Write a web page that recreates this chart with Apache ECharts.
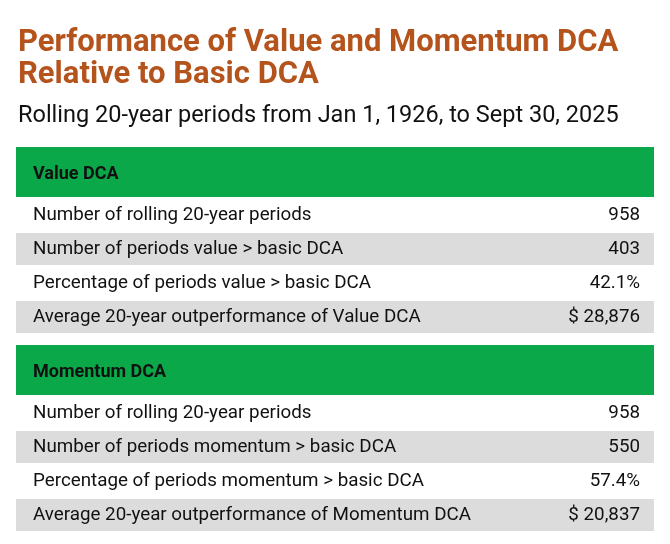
<!DOCTYPE html>
<html><head><meta charset="utf-8">
<script src="https://cdn.jsdelivr.net/npm/echarts@6/dist/echarts.min.js"></script>
<style>html,body{margin:0;padding:0;background:#fff}#c{width:670px;height:544px}</style>
</head><body><div id="c"></div>
<script>
const titleLines = ["Performance of Value and Momentum DCA", "Relative to Basic DCA"];
const subtitle = "Rolling 20-year periods from Jan 1, 1926, to Sept 30, 2025";
const sectionNames = ["Value DCA", "Momentum DCA"];
const valueLabels = ["Number of rolling 20-year periods", "Number of periods value > basic DCA", "Percentage of periods value > basic DCA", "Average 20-year outperformance of Value DCA"];
const valueValues = ["958", "403", "42.1%", "$ 28,876"];
const momentumLabels = ["Number of rolling 20-year periods", "Number of periods momentum > basic DCA", "Percentage of periods momentum > basic DCA", "Average 20-year outperformance of Momentum DCA"];
const momentumValues = ["958", "550", "57.4%", "$ 20,837"];

const font = "Roboto, 'Liberation Sans', sans-serif";
const g = [];
g.push({type:'text', left:18, top:27, style:{text:titleLines.join('\n'), font:"bold 31px "+font, fill:'#B5531C', lineHeight:32}});
g.push({type:'text', left:18, top:104, style:{text:subtitle, font:"23.5px "+font, fill:'#111'}});
function section(y0, name, labels, values){
  g.push({type:'rect', shape:{x:16, y:y0, width:638, height:50}, style:{fill:'#0BA84A'}});
  g.push({type:'text', x:33, y:y0+27, style:{text:name, font:"bold 18px "+font, fill:'#111', textVerticalAlign:'middle'}});
  let y = y0+52;
  labels.forEach((l,i)=>{
    const h = 32;
    g.push({type:'rect', shape:{x:16, y:y, width:638, height:h}, style:{fill: i%2 ? '#DCDCDC' : '#fff'}});
    g.push({type:'text', x:33, y:y+h/2, style:{text:l, font:"18.8px "+font, fill:'#111', textVerticalAlign:'middle'}});
    g.push({type:'text', x:640, y:y+h/2, style:{text:values[i], font:"18.8px "+font, fill:'#111', textAlign:'right', textVerticalAlign:'middle'}});
    y += h+2;
  });
}
section(147, sectionNames[0], valueLabels, valueValues);
section(345, sectionNames[1], momentumLabels, momentumValues);
const chart = echarts.init(document.getElementById('c'));
chart.setOption({animation:false, graphic:g});
</script></body></html>
